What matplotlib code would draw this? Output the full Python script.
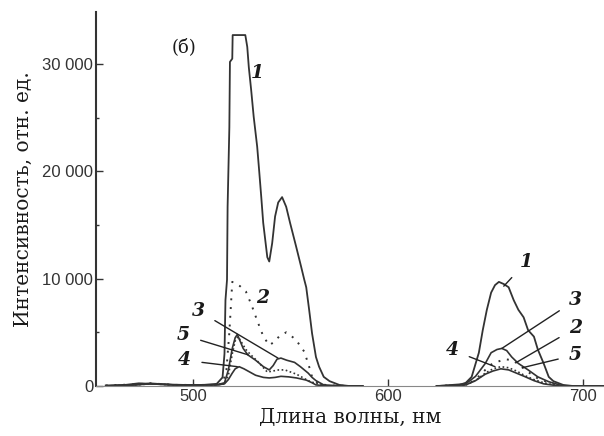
import numpy as np
from matplotlib import pyplot as plt
from matplotlib.ticker import MultipleLocator, FuncFormatter

nan = np.nan

# wavelength, nm / intensity, arb. units (left band, gap, right band)
wl1 = [455, 465, 472, 478, 485, 495, 505, 512, 515, 516, 516.5, 517.3, 517.6,
       518.5, 518.8, 520.0, 520.2, 526.7, 527.7, 528.5, 529.7, 531, 532.8,
       533.8, 534.9, 535.9, 538, 539, 540.5, 542, 543.6, 545.6, 547.7, 549.7,
       552.8, 555.4, 557, 558, 559.5, 561, 563, 564.6, 567, 570, 575, 580, 587,
       nan,
       625, 635, 640, 643, 646.7, 648.7, 650.8, 653, 655, 657, 659.5, 662,
       664.6, 667, 669.7, 672, 675, 677, 680, 682.6, 685, 690, 695, 700, 711]
int1 = [50, 100, 250, 200, 150, 100, 100, 200, 800, 3000, 8000, 9900, 16700,
        24100, 30200, 30500, 32700, 32700, 31600, 29700, 27600, 25100, 22300,
        20100, 17600, 15200, 12000, 11600, 13300, 15800, 17100, 17600, 16700,
        15200, 13000, 11100, 9900, 9200, 7100, 4900, 2700, 1800, 850, 450, 100,
        0, 0,
        nan,
        0, 0, 300, 850, 3100, 5200, 7100, 8700, 9400, 9700, 9500, 9200, 8000,
        7100, 6400, 5200, 4600, 3400, 2100, 850, 450, 100, 0, 0, 0]

wl2 = [455, 470, 478, 490, 505, 512, 515, 517, 518.5, 520, 521, 524, 527, 530,
       533, 536, 539, 541.5, 544, 547.7, 550, 552.8, 555, 557, 559.5, 561, 563,
       566, 570, 580, 587,
       nan,
       625, 640, 645, 650, 653, 657, 660, 664, 668, 672, 677, 683, 690, 711]
int2 = [50, 150, 250, 100, 100, 100, 200, 1500, 5000, 9700, 9600, 9300, 8800,
        7500, 6000, 4600, 3800, 4100, 4600, 5000, 4700, 4300, 3700, 3200, 1800,
        850, 400, 150, 50, 0, 0,
        nan,
        0, 100, 600, 1500, 2000, 2300, 2500, 2400, 1900, 1300, 700, 300, 0, 0]

wl3 = [455, 470, 478, 490, 505, 512, 516, 518, 520, 521.5, 522.6, 524, 525.6,
       528, 532, 536, 539, 541, 543, 545, 548, 552, 555, 559, 561, 563, 567,
       572, 580, 587,
       nan,
       625, 640, 645, 650, 653, 656, 658.5, 661, 663.6, 667, 672, 677, 682.6,
       690, 711]
int3 = [0, 100, 250, 100, 100, 100, 300, 1500, 3500, 4500, 4800, 4200, 3500,
        2900, 2400, 1800, 1500, 1900, 2500, 2600, 2400, 2200, 1800, 1200, 800,
        500, 100, 50, 0, 0,
        nan,
        0, 200, 900, 2100, 3100, 3400, 3500, 3300, 2700, 2100, 1500, 850, 400,
        0, 0]

wl4 = [455, 470, 478, 490, 505, 512, 516, 518, 520, 521.5, 523.5, 526, 529,
       532, 536, 539, 542, 545, 549, 553, 558, 561, 563, 566, 570, 580, 587,
       nan,
       625, 640, 645, 650, 654, 658, 662, 666, 670, 675, 680, 688, 711]
int4 = [0, 100, 200, 100, 100, 100, 200, 600, 1200, 1600, 1800, 1600, 1300,
        1000, 800, 750, 800, 900, 850, 750, 550, 300, 100, 50, 0, 0, 0,
        nan,
        0, 100, 500, 1100, 1400, 1600, 1500, 1200, 900, 500, 200, 0, 0]

wl5 = [455, 470, 478, 490, 505, 512, 516, 518, 520, 521.5, 523, 525, 527, 529,
       533, 536, 538, 541, 544, 547, 550, 553, 556, 559, 562, 565, 567, 572,
       580, 587,
       nan,
       625, 640, 645, 650, 654, 658, 662, 666, 670, 675, 680, 688, 711]
int5 = [0, 100, 200, 100, 100, 100, 200, 1000, 3000, 4200, 4600, 4000, 3400,
        3000, 2300, 1700, 1300, 1400, 1500, 1500, 1300, 1100, 800, 500, 300,
        150, 50, 0, 0, 0,
        nan,
        0, 100, 500, 1200, 1600, 1800, 1700, 1400, 1000, 600, 300, 0, 0]

yticks = [0, 10000, 20000, 30000]

fig = plt.figure(figsize=(6.04, 4.36), dpi=100)
ax = fig.add_axes([0.159, 0.1147, 0.841, 0.8578])

col = "#333333"
ax.plot(wl1, int1, color=col, lw=1.3)
ax.plot(wl2, int2, color=col, lw=1.4, ls=(0, (1, 3.5)))
ax.plot(wl3, int3, color=col, lw=1.2)
ax.plot(wl4, int4, color=col, lw=1.2)
ax.plot(wl5, int5, color=col, lw=1.2, ls=(0, (1, 1.5)))

ax.set_xlim(450, 711)
ax.set_ylim(0, 34850)
ax.set_xticks([500, 600, 700])
ax.set_yticks(yticks)
ax.yaxis.set_minor_locator(MultipleLocator(5000))
ax.yaxis.set_major_formatter(
    FuncFormatter(lambda v, p: f"{int(v):,}".replace(",", " ")))
ax.tick_params(direction="in", length=5, width=1, labelsize=12,
               colors=col, pad=2)
ax.tick_params(which="minor", direction="in", length=2, width=1, colors=col)
for lab in ax.get_xticklabels() + ax.get_yticklabels():
    lab.set_family("Liberation Sans")

for side in ("top", "right"):
    ax.spines[side].set_visible(False)
ax.spines["left"].set_color(col)
ax.spines["left"].set_linewidth(1.5)
ax.spines["bottom"].set_color("#888888")
ax.spines["bottom"].set_linewidth(0.8)

serif = "DejaVu Serif"
ax.set_xlabel("Длина волны, нм", family=serif, fontsize=14.5, labelpad=3,
              color="#1a1a1a")
ax.set_ylabel("Интенсивность, отн. ед.", family=serif, fontsize=14.5,
              labelpad=7, color="#1a1a1a")
ax.text(495.4, 31600, "(б)", family=serif, fontsize=13, ha="center",
        va="center", color="#1a1a1a")

num = dict(family=serif, style="italic", weight="bold", fontsize=13.5,
           ha="center", va="center", color="#1a1a1a")
line = dict(arrowstyle="-", color="#222222", lw=1, shrinkA=6, shrinkB=0)

ax.text(533, 29200, "1", **num)
ax.text(535.4, 8200, "2", **num)
ax.annotate("3", xy=(543.5, 2600), xytext=(502.6, 7000), arrowprops=line,
            **num)
ax.annotate("5", xy=(528.2, 2900), xytext=(494.9, 4750), arrowprops=line,
            **num)
ax.annotate("4", xy=(522.6, 1800), xytext=(495.4, 2400), arrowprops=line,
            **num)

ax.annotate("1", xy=(659.5, 9300), xytext=(671.3, 11600), arrowprops=line,
            **num)
ax.annotate("3", xy=(658.5, 3500), xytext=(696.4, 8000), arrowprops=line,
            **num)
ax.annotate("2", xy=(666, 2200), xytext=(696.4, 5400), arrowprops=line,
            **num)
ax.annotate("5", xy=(669, 1700), xytext=(696.4, 2900), arrowprops=line,
            **num)
ax.annotate("4", xy=(655, 1800), xytext=(633, 3350), arrowprops=line,
            **num)

fig.savefig("out.png", dpi=100)
